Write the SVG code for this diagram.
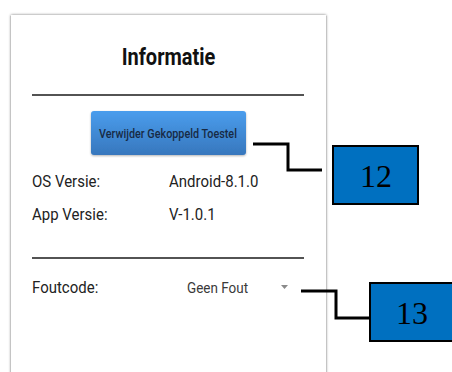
<svg xmlns="http://www.w3.org/2000/svg" width="452" height="372" viewBox="0 0 452 372">
  <defs>
    <filter id="cardShadow" x="-10%" y="-10%" width="120%" height="120%">
      <feGaussianBlur in="SourceAlpha" stdDeviation="1.8"/>
      <feComponentTransfer><feFuncA type="linear" slope="0.55"/></feComponentTransfer>
      <feMerge><feMergeNode/><feMergeNode in="SourceGraphic"/></feMerge>
    </filter>
    <filter id="btnShadow" x="-10%" y="-20%" width="120%" height="150%">
      <feGaussianBlur in="SourceAlpha" stdDeviation="1"/>
      <feOffset dy="1"/>
      <feComponentTransfer><feFuncA type="linear" slope="0.3"/></feComponentTransfer>
      <feMerge><feMergeNode/><feMergeNode in="SourceGraphic"/></feMerge>
    </filter>
    <linearGradient id="btnFill" x1="0" y1="0" x2="0" y2="1">
      <stop offset="0" stop-color="#4a9ded"/>
      <stop offset="1" stop-color="#3777bd"/>
    </linearGradient>
  </defs>
  <style>
    .ui { font-family: Roboto, "Liberation Sans", sans-serif; fill: #222; }
    .title { font-weight: bold; font-size: 20px; fill: #111; }
    .lbl { font-size: 15px; }
    .val { font-size: 13.5px; fill: #3a3a3a; }
    .btn { font-size: 10.8px; font-weight: 500; fill: #172a44; }
    .rule { stroke: #1a1a1a; stroke-width: 1.4; }
    .tag rect { fill: #0070c0; stroke: #000; stroke-width: 2; }
    .tag text { font-family: "Liberation Serif", "Times New Roman", serif; font-size: 32px; fill: #000; text-anchor: middle; }
    .conn { fill: none; stroke: #000; stroke-width: 3; }
  </style>

  <rect width="452" height="372" fill="#fff"/>

  <!-- phone info card -->
  <g id="info-card">
    <rect x="11" y="15" width="315" height="370" fill="#fff" filter="url(#cardShadow)"/>
    <line x1="10.5" y1="16" x2="10.5" y2="372" stroke="#c4c4c4" stroke-width="1"/>
    <line x1="326.5" y1="16" x2="326.5" y2="372" stroke="#c4c4c4" stroke-width="1"/>
    <text class="ui title" text-anchor="middle" transform="matrix(1 0 0 1.18 168.5 65)">Informatie</text>
    <line class="rule" x1="32" y1="95" x2="304" y2="95"/>
    <g id="btn-remove" filter="url(#btnShadow)">
      <rect x="91" y="111" width="155" height="44" rx="3" fill="url(#btnFill)"/>
    </g>
    <text class="ui btn" text-anchor="middle" transform="matrix(1 0 0 1.17 168 138)">Verwijder Gekoppeld Toestel</text>
    <text class="ui lbl" transform="matrix(1 0 0 1.15 32 187)">OS Versie:</text>
    <text class="ui lbl" transform="matrix(1 0 0 1.15 169 187)">Android-8.1.0</text>
    <text class="ui lbl" transform="matrix(1 0 0 1.15 32 220)">App Versie:</text>
    <text class="ui lbl" transform="matrix(1 0 0 1.15 169 220)">V-1.0.1</text>
    <line class="rule" x1="32" y1="258" x2="304" y2="258"/>
    <text class="ui lbl" transform="matrix(1 0 0 1.15 32 293)">Foutcode:</text>
    <text class="ui val" transform="matrix(1 0 0 1.15 187 293)">Geen Fout</text>
    <polygon points="281,285 288,285 284.5,289" fill="#8a8a8a"/>
  </g>

  <!-- callout boxes -->
  <g id="tag-12" class="tag">
    <rect x="333" y="146" width="85" height="58"/>
    <text x="376" y="187">12</text>
  </g>
  <g id="tag-13" class="tag">
    <rect x="370" y="283" width="84" height="58"/>
    <text x="412" y="324">13</text>
  </g>

  <!-- leader lines -->
  <g id="connectors">
    <polyline class="conn" points="253,144 288,144 288,170 322,170"/>
    <polyline class="conn" points="301,291 336,291 336,318 370,318"/>
  </g>
</svg>
